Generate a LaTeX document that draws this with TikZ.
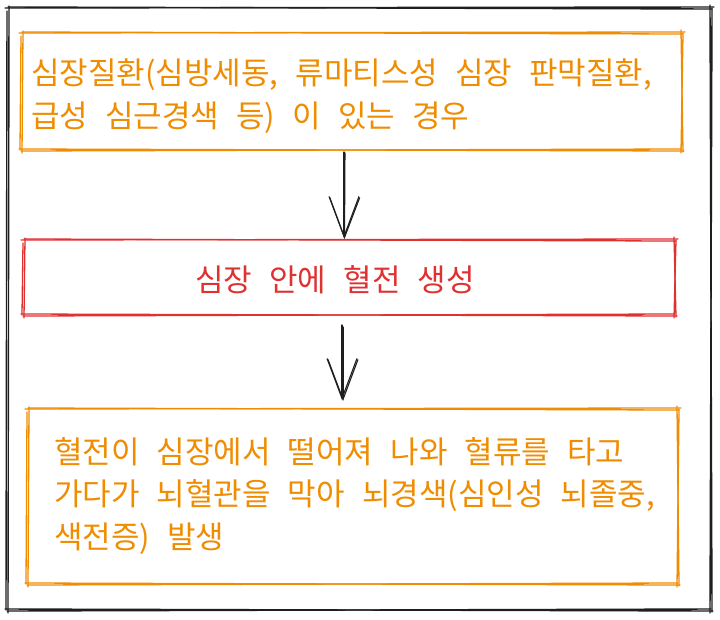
\documentclass[tikz,border=0pt]{standalone}
\usepackage{fontspec}
\newfontfamily\krfont{Noto Sans CJK KR}
\newcommand\krsetup{\krfont\fontsize{31}{42.5}\selectfont\spaceskip 0.55em plus 0em minus 0em\relax}
\usetikzlibrary{arrows.meta}
\definecolor{exorange}{HTML}{F08C00}
\definecolor{exred}{HTML}{E03131}
\definecolor{exblack}{HTML}{1E1E1E}
\tikzset{
  boxshape/.style={draw=none, inner sep=0pt, outer sep=0pt},
  txt/.style={inner sep=0pt, align=left, font=\krsetup},
  arr/.style={draw=exblack, line width=1.1pt, -{Straight Barb[length=40pt, width=30pt]}},
}
\newcommand\skbox[3]{%
  \draw[#2, line width=#3] ([shift={(-3,0)}]#1.north west) -- ([shift={(3,-1)}]#1.north east);
  \draw[#2, line width=#3] ([shift={(0,-1)}]#1.north west) -- ([shift={(1,1)}]#1.north east);
  \draw[#2, line width=#3] ([shift={(-1,-3)}]#1.north east) -- ([shift={(1,2)}]#1.south east);
  \draw[#2, line width=#3] ([shift={(1,0)}]#1.north east) -- ([shift={(-1,3)}]#1.south east);
  \draw[#2, line width=#3] ([shift={(2,1)}]#1.south east) -- ([shift={(-3,-1)}]#1.south west);
  \draw[#2, line width=#3] ([shift={(0,-1)}]#1.south east) -- ([shift={(-1,1)}]#1.south west);
  \draw[#2, line width=#3] ([shift={(0,3)}]#1.south west) -- ([shift={(1,-2)}]#1.north west);
  \draw[#2, line width=#3] ([shift={(-2,0)}]#1.south west) -- ([shift={(-1,3)}]#1.north west);
}
\begin{document}
\begin{tikzpicture}[x=1pt, y=-1pt, line cap=round, line join=round]
\useasboundingbox (0,0) rectangle (720,619);
\fill[white] (0,0) rectangle (720,619);

\node[boxshape, minimum width=703pt, minimum height=602pt] (frame) at (359.5,309) {};
\node[boxshape, minimum width=660pt, minimum height=117pt] (b1) at (352,91.5) {};
\node[boxshape, minimum width=651pt, minimum height=75pt] (b2) at (349.5,277.5) {};
\node[boxshape, minimum width=650pt, minimum height=175pt] (b3) at (353,496.5) {};

\skbox{frame}{exblack}{1.4pt}
\skbox{b1}{exorange}{1.3pt}
\skbox{b2}{exred}{1.3pt}
\skbox{b3}{exorange}{1.3pt}

\node[txt, text=exorange, anchor=west] (t1) at (31,96) {심장질환(심방세동, 류마티스성 심장 판막질환,\\급성 심근경색 등) 이 있는 경우};
\node[txt, text=exred] (t2) at (335,280) {심장 안에 혈전 생성};
\node[txt, text=exorange, anchor=west] (t3) at (54,496) {혈전이 심장에서 떨어져 나와 혈류를 타고\\가다가 뇌혈관을 막아 뇌경색(심인성 뇌졸중,\\색전증) 발생};

\draw[arr, shorten <=2pt, shorten >=2pt] ([xshift=-8]b1.south) -- ([xshift=-5.5]b2.north);
\draw[arr, shorten <=3pt, shorten >=1pt] ([xshift=-7]b1.south) -- ([xshift=-5]b2.north);
\draw[arr, shorten <=10pt, shorten >=9pt] ([xshift=-7.5]b2.south) -- ([xshift=-11]b3.north);
\draw[arr, shorten <=12pt, shorten >=8pt] ([xshift=-6.5]b2.south) -- ([xshift=-10]b3.north);
\end{tikzpicture}
\end{document}
